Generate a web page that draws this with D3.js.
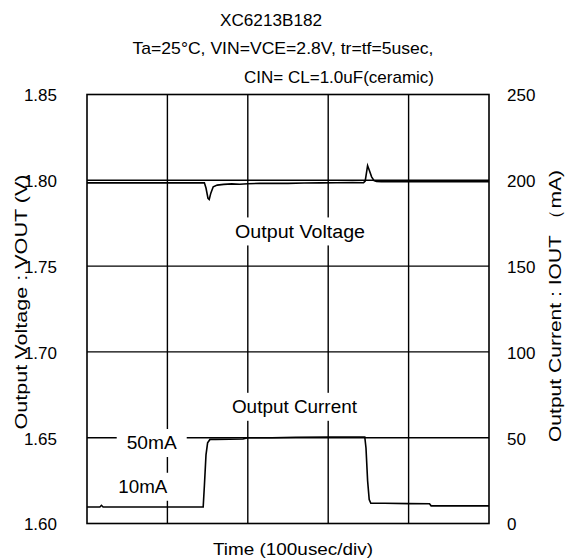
<!DOCTYPE html>
<html><head><meta charset="utf-8">
<script src="https://cdn.jsdelivr.net/npm/d3@7"></script>
<style>
html,body{margin:0;padding:0;background:#fff;}
svg text{font-family:"Liberation Sans",Arial,sans-serif;fill:#000;}
</style></head>
<body><svg id="c" width="571" height="560"></svg>
<script>
// ---- data ----
const titleLines = ["XC6213B182", "Ta=25\u00B0C, VIN=VCE=2.8V, tr=tf=5usec,", "CIN= CL=1.0uF(ceramic)"];
const voltTicks = [1.60, 1.65, 1.70, 1.75, 1.80, 1.85];
const currTicks = [0, 50, 100, 150, 200, 250];
const timeTicks = [0, 100, 200, 300, 400, 500];
// time in usec
const voltTime = [0, 40, 100, 146, 148, 150.5, 152, 154, 157, 162, 170, 180, 190, 200, 215, 230, 250, 270, 290, 310, 330, 344, 346, 349, 351, 354, 357, 360, 366, 380, 420, 460, 500];
const voltValue = [1.7985, 1.7985, 1.7985, 1.7985, 1.7955, 1.7895, 1.7888, 1.7925, 1.7962, 1.7972, 1.7976, 1.7979, 1.7977, 1.798, 1.7982, 1.7983, 1.7982, 1.7984, 1.7985, 1.7986, 1.7987, 1.7986, 1.7995, 1.8085, 1.806, 1.802, 1.7998, 1.7993, 1.7992, 1.7992, 1.7992, 1.7992, 1.7992];
const currTime = [0, 16, 18, 20, 60, 120, 144.5, 146, 148, 150, 153, 160, 194, 200, 230, 260, 300, 345.5, 347, 349, 351, 353, 370, 400, 426, 428, 460, 500];
const currValue = [9.6, 9.6, 10.6, 9.6, 9.6, 9.6, 9.6, 22, 40, 47, 49, 49, 49.2, 50, 50, 50.3, 50.4, 50.4, 44, 25, 14, 11.8, 11.8, 11.6, 11.5, 10.3, 10.3, 10.3];
const annotations = [
  {text: "Output Voltage", t: 265, v: 1.7702, len: 130},
  {text: "Output Current", t: 258, v: 1.668, len: 125},
  {text: "50mA", t: 80.5, v: 1.6469, len: 50},
  {text: "10mA", t: 69.5, v: 1.6214, len: 49}
];

// ---- layout ----
const svg = d3.select("#c");
const L = 87, R = 489, T = 94.5, B = 523.5;
const x = d3.scaleLinear().domain([0, 500]).range([L, R]);
const yV = d3.scaleLinear().domain([1.60, 1.85]).range([B, T]);
const yI = d3.scaleLinear().domain([0, 250]).range([B, T]);

function stretched(sel, len) {
  return sel.attr("textLength", len).attr("lengthAdjust", "spacingAndGlyphs");
}

// title
stretched(svg.append("text").attr("x", 271).attr("y", 26).attr("text-anchor", "middle").style("font-size", "17px").text(titleLines[0]), 102);
stretched(svg.append("text").attr("x", 283).attr("y", 54).attr("text-anchor", "middle").style("font-size", "17px").text(titleLines[1]), 301);
stretched(svg.append("text").attr("x", 434).attr("y", 83).attr("text-anchor", "end").style("font-size", "17px").text(titleLines[2]), 190);

// grid
const g = svg.append("g");
g.selectAll("line.v").data(timeTicks.slice(1, -1)).enter().append("line")
  .attr("x1", d => x(d)).attr("x2", d => x(d)).attr("y1", T).attr("y2", B)
  .attr("stroke", "#000").attr("stroke-width", 1.4);
g.selectAll("line.h").data(voltTicks.slice(1, -1)).enter().append("line")
  .attr("x1", L).attr("x2", R).attr("y1", d => yV(d)).attr("y2", d => yV(d))
  .attr("stroke", "#000").attr("stroke-width", 1.4);

// axes (labels only, no tick marks)
const axL = svg.append("g").attr("transform", `translate(${L},0)`)
  .call(d3.axisLeft(yV).tickValues(voltTicks).tickFormat(d3.format(".2f")).tickSize(0).tickPadding(30));
const axR = svg.append("g").attr("transform", `translate(${R},0)`)
  .call(d3.axisRight(yI).tickValues(currTicks).tickSize(0).tickPadding(18));
[axL, axR].forEach(a => {
  a.select(".domain").remove();
  a.selectAll("text").style("font-size", "17px").style("font-family", '"Liberation Sans",Arial,sans-serif').attr("dy", "0.38em");
});

// frame
svg.append("rect").attr("x", L).attr("y", T).attr("width", R - L).attr("height", B - T)
  .attr("fill", "none").attr("stroke", "#000").attr("stroke-width", 1.6);

// annotation labels with white boxes
annotations.forEach(a => {
  const cx = x(a.t), cy = yV(a.v);
  svg.append("rect").attr("x", cx - a.len / 2 - 10).attr("y", cy - 14).attr("width", a.len + 20).attr("height", 28)
    .attr("fill", "#fff");
  stretched(svg.append("text").attr("x", cx).attr("y", cy).attr("text-anchor", "middle")
    .attr("dy", "0.36em").style("font-size", "18px").text(a.text), a.len);
});

// traces
const vLine = d3.line().x(d => x(d[0])).y(d => yV(d[1]));
const iLine = d3.line().x(d => x(d[0])).y(d => yI(d[1]));
svg.append("path").datum(voltTime.map((t, i) => [t, voltValue[i]])).attr("d", vLine)
  .attr("fill", "none").attr("stroke", "#000").attr("stroke-width", 1.6);
svg.append("path").datum(currTime.map((t, i) => [t, currValue[i]])).attr("d", iLine)
  .attr("fill", "none").attr("stroke", "#000").attr("stroke-width", 1.6);

// axis titles
stretched(svg.append("text").attr("x", 293).attr("y", 555).attr("text-anchor", "middle").style("font-size", "17px").text("Time (100usec/div)"), 160);
stretched(svg.append("text").attr("transform", "translate(27,302) rotate(-90)").attr("text-anchor", "middle").style("font-size", "17px").text("Output Voltage : VOUT (V)"), 255);
stretched(svg.append("text").attr("transform", "translate(561,306) rotate(-90)").attr("text-anchor", "middle").style("font-size", "17px").text("Output Current : IOUT \uFF08mA)"), 272);
</script></body></html>
